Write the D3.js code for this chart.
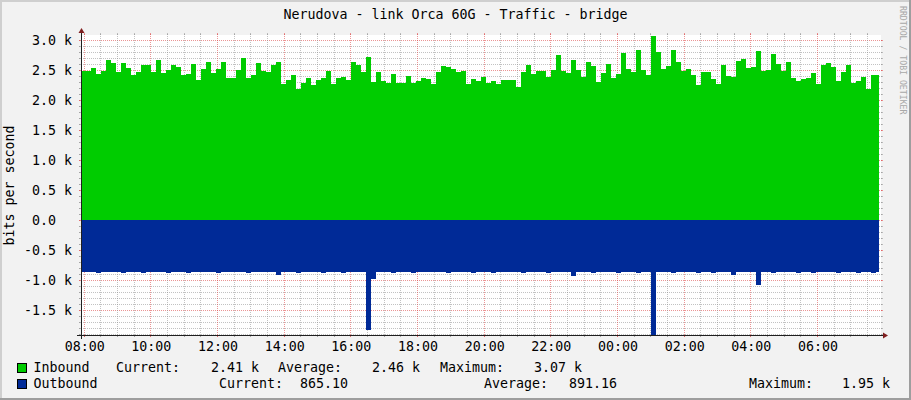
<!DOCTYPE html>
<html><head><meta charset="utf-8">
<script src="https://cdn.jsdelivr.net/npm/d3@7"></script>
<style>
html,body{margin:0;padding:0;background:#f2f2f2}
svg{display:block}
text{font-family:"DejaVu Sans Mono",monospace;fill:#000}
</style>
</head><body>
<svg id="chart" width="911" height="400"></svg>
<script>
// ---------- data ----------
const title = "Nerudova - link Orca 60G - Traffic - bridge";
const yAxisTitle = "bits per second";
const watermark = "RRDTOOL / TOBI OETIKER";
const graphStart = "2024-01-01T07:54:18";
const graphEnd   = "2024-01-02T07:54:18";
const dataStart  = "2024-01-01T07:54:00";
const dataEnd    = "2024-01-02T07:50:00";
const stepMinutes = 9;
const yMin = -1.9167, yMax = 3.0833;

// inbound traffic, k bits/s
const inbound = [
2.48,2.49,2.53,2.44,2.49,2.67,2.62,2.46,2.62,2.53,
2.41,2.47,2.58,2.59,2.46,2.67,2.45,2.50,2.59,2.55,
2.42,2.44,2.60,2.34,2.51,2.64,2.45,2.52,2.63,2.36,
2.37,2.50,2.70,2.36,2.42,2.61,2.49,2.46,2.58,2.63,
2.27,2.34,2.41,2.19,2.29,2.37,2.25,2.33,2.36,2.49,
2.27,2.37,2.39,2.33,2.64,2.58,2.46,2.72,2.30,2.46,
2.31,2.29,2.43,2.28,2.28,2.40,2.28,2.31,2.36,2.35,
2.26,2.46,2.57,2.55,2.52,2.47,2.49,2.26,2.35,2.32,
2.38,2.28,2.32,2.27,2.34,2.33,2.33,2.21,2.47,2.58,
2.44,2.48,2.48,2.39,2.50,2.75,2.49,2.45,2.67,2.50,
2.39,2.63,2.56,2.30,2.45,2.60,2.37,2.44,2.79,2.52,
2.47,2.83,2.50,2.42,3.07,2.80,2.52,2.56,2.83,2.63,
2.48,2.52,2.42,2.25,2.47,2.47,2.35,2.27,2.58,2.40,
2.38,2.65,2.68,2.53,2.55,2.82,2.48,2.50,2.77,2.60,
2.49,2.63,2.37,2.32,2.35,2.36,2.45,2.26,2.58,2.62,
2.55,2.32,2.47,2.58,2.29,2.31,2.38,2.18,2.42,2.41
];
// outbound traffic, k bits/s (drawn below zero)
const outbound = [
0.87,0.87,0.87,0.89,0.87,0.87,0.87,0.87,0.88,0.87,
0.87,0.87,0.89,0.87,0.87,0.87,0.87,0.88,0.87,0.87,
0.87,0.89,0.87,0.87,0.87,0.87,0.87,0.89,0.87,0.87,
0.87,0.87,0.87,0.88,0.87,0.87,0.87,0.87,0.87,0.91,
0.87,0.87,0.87,0.89,0.87,0.87,0.87,0.87,0.88,0.87,
0.87,0.87,0.89,0.87,0.87,0.87,0.87,1.83,0.98,0.87,
0.87,0.87,0.88,0.87,0.87,0.87,0.89,0.87,0.87,0.87,
0.87,0.87,0.87,0.89,0.87,0.87,0.87,0.87,0.88,0.87,
0.87,0.87,0.89,0.87,0.87,0.87,0.87,0.87,0.89,0.87,
0.87,0.87,0.87,0.88,0.87,0.87,0.87,0.87,0.93,0.87,
0.87,0.87,0.89,0.87,0.87,0.87,0.87,0.88,0.87,0.87,
0.87,0.89,0.87,0.87,1.95,0.87,0.87,0.87,0.89,0.87,
0.87,0.87,0.87,0.88,0.87,0.87,0.89,0.87,0.87,0.87,
0.92,0.87,0.87,0.87,0.87,1.08,0.87,0.87,0.89,0.87,
0.87,0.87,0.87,0.88,0.87,0.87,0.89,0.87,0.87,0.87,
0.87,0.89,0.87,0.87,0.87,0.88,0.87,0.87,0.89,0.865
];
const yTicks = [-1.5,-1.0,-0.5,0,0.5,1.0,1.5,2.0,2.5,3.0];
const yTickLabels = ["-1.5 k","-1.0 k","-0.5 k","0.0\u00a0\u00a0","0.5 k","1.0 k","1.5 k","2.0 k","2.5 k","3.0 k"];
const xTickLabels = ["08:00","10:00","12:00","14:00","16:00","18:00","20:00","22:00","00:00","02:00","04:00","06:00"];
const seriesNames = ["Inbound","Outbound"];
const seriesColors = ["#00CC00","#002A97"];
const legendInbound  = [["Current:","2.41 k"],["Average:","2.46 k"],["Maximum:","3.07 k"]];
const legendOutbound = [["Current:","865.10"],["Average:","891.16"],["Maximum:","1.95 k"]];

// ---------- layout ----------
const W = 911, H = 400;
const L = 81, R = 881, T = 35, B = 335;
const svg = d3.select("#chart");
const parse = d3.isoParse;
const x = d3.scaleTime().domain([parse(graphStart), parse(graphEnd)]).range([L, R]);
const y = d3.scaleLinear().domain([yMin, yMax]).range([B, T]);

// background + frame shading
svg.append("rect").attr("width", W).attr("height", H).attr("fill", "#f2f2f2");
svg.append("rect").attr("x", 0).attr("y", 0).attr("width", W).attr("height", 2).attr("fill", "#cfcfcf");
svg.append("rect").attr("x", 0).attr("y", 0).attr("width", 2).attr("height", H).attr("fill", "#cfcfcf");
svg.append("rect").attr("x", W - 2).attr("y", 0).attr("width", 2).attr("height", H).attr("fill", "#9e9e9e");
svg.append("rect").attr("x", 0).attr("y", H - 2).attr("width", W).attr("height", 2).attr("fill", "#9e9e9e");

// canvas
svg.append("rect").attr("x", L).attr("y", T).attr("width", R - L).attr("height", B - T).attr("fill", "#ffffff");

// ---------- grid ----------
const minorCol = "rgba(143,143,143,0.55)";
const majorCol = "rgba(222,79,79,0.6)";
const grid = svg.append("g").attr("shape-rendering", "crispEdges");
const yMajor = y.ticks(10);
const yMinor = y.ticks(50).filter(v => !yMajor.some(m => Math.abs(m - v) < 1e-6));
function hLine(v, col) {
  const yy = Math.round(y(v)) + 0.5;
  grid.append("line").attr("x1", L - 2).attr("x2", R + 2).attr("y1", yy).attr("y2", yy)
    .attr("stroke", col).attr("stroke-dasharray", "1,1");
  grid.append("line").attr("x1", L - 2).attr("x2", L).attr("y1", yy).attr("y2", yy).attr("stroke", col);
  grid.append("line").attr("x1", R).attr("x2", R + 2).attr("y1", yy).attr("y2", yy).attr("stroke", col);
}
yMinor.forEach(v => hLine(v, minorCol));
yMajor.forEach(v => hLine(v, majorCol));

const xMajor = d3.timeHour.every(2).range(parse(graphStart), parse(graphEnd));
const xMinor = d3.timeMinute.every(30).range(parse(graphStart), parse(graphEnd))
  .filter(t => !xMajor.some(m => +m === +t));
function vLine(t, col) {
  const xx = Math.floor(x(t)) + 0.5;
  grid.append("line").attr("y1", B + 2).attr("y2", T - 2).attr("x1", xx).attr("x2", xx)
    .attr("stroke", col).attr("stroke-dasharray", "1,1");
  grid.append("line").attr("y1", B).attr("y2", B + 2).attr("x1", xx).attr("x2", xx).attr("stroke", col);
  grid.append("line").attr("y1", T - 2).attr("y2", T).attr("x1", xx).attr("x2", xx).attr("stroke", col);
}
xMinor.forEach(t => vLine(t, minorCol));
xMajor.forEach(t => vLine(t, majorCol));

// ---------- data areas ----------
svg.append("clipPath").attr("id", "plotclip").append("rect")
  .attr("x", L).attr("y", T).attr("width", R - L).attr("height", B - T);
const t0 = parse(dataStart);
function toPoints(vals, sign) {
  const pts = vals.map((v, i) => ({ t: d3.timeMinute.offset(t0, i * stepMinutes), v: sign * v }));
  pts.push({ t: parse(dataEnd), v: sign * vals[vals.length - 1] });
  return pts;
}
const area = d3.area().curve(d3.curveStepAfter)
  .x(d => Math.round(x(d.t))).y0(y(0)).y1(d => Math.round(y(d.v)));
const gData = svg.append("g").attr("clip-path", "url(#plotclip)");
gData.append("path").datum(toPoints(inbound, 1)).attr("d", area)
  .attr("fill", seriesColors[0]);
gData.append("path").datum(toPoints(outbound, -1)).attr("d", area)
  .attr("fill", seriesColors[1]);

// ---------- axes ----------
const axisCol = "#1f1f1f", arrowCol = "#801f1f";
svg.append("line").attr("x1", L - 4).attr("x2", R + 4).attr("y1", B + 0.5).attr("y2", B + 0.5)
  .attr("stroke", axisCol).attr("stroke-width", 1);
svg.append("line").attr("x1", L + 0.5).attr("x2", L + 0.5).attr("y1", B + 4).attr("y2", T - 4)
  .attr("stroke", axisCol).attr("stroke-width", 1);
svg.append("path").attr("d", `M${R + 2},${B + 0.5 - 3}L${R + 2},${B + 0.5 + 3}L${R + 7},${B + 0.5}Z`).attr("fill", arrowCol);
svg.append("path").attr("d", `M${L + 0.5 - 3},${T - 2}L${L + 0.5 + 3},${T - 2}L${L + 0.5},${T - 7}Z`).attr("fill", arrowCol);

// x axis labels
const xAxis = d3.axisBottom(x).tickValues(xMajor).tickSize(0).tickPadding(0)
  .tickFormat((d, i) => xTickLabels[i]);
const gx = svg.append("g").attr("transform", `translate(0,${B})`).call(xAxis);
gx.select(".domain").remove();
gx.selectAll("text").attr("font-size", "13.3px").attr("font-family", "DejaVu Sans Mono")
  .attr("fill", "#000").attr("dy", null).attr("y", 16);

// y axis labels
const yAxis = d3.axisLeft(y).tickValues(yTicks).tickSize(0).tickPadding(0)
  .tickFormat((d, i) => yTickLabels[i]);
const gy = svg.append("g").attr("transform", `translate(72,0)`).call(yAxis);
gy.select(".domain").remove();
gy.selectAll("text").attr("font-size", "13.3px").attr("font-family", "DejaVu Sans Mono")
  .attr("fill", "#000").attr("x", 0).attr("dy", null).attr("y", 5).style("white-space", "pre");

// titles
svg.append("text").attr("x", 455.5).attr("y", 19).attr("text-anchor", "middle")
  .attr("font-size", "13.3px").text(title);
svg.append("text").attr("transform", "translate(13.5,185.5) rotate(-90)").attr("text-anchor", "middle")
  .attr("font-size", "13.3px").text(yAxisTitle);
svg.append("text").attr("transform", "translate(899.5,6) rotate(90)")
  .attr("font-size", "8.2px").style("fill", "#a8a8a8").text(watermark);

// ---------- legend ----------
const rows = [
  { y: 372, name: seriesNames[0], color: seriesColors[0], items: legendInbound,
    xs: [[116, 211], [278, 372], [440, 534]] },
  { y: 388, name: seriesNames[1], color: seriesColors[1], items: legendOutbound,
    xs: [[219, 300], [484, 569], [749, 842]] }
];
rows.forEach(r => {
  svg.append("rect").attr("x", 17.5).attr("y", r.y - 8.5).attr("width", 9).attr("height", 9)
    .attr("fill", r.color).attr("stroke", "#000").attr("stroke-width", 1);
  svg.append("text").attr("x", 33.5).attr("y", r.y).attr("font-size", "13.3px").text(r.name);
  r.items.forEach((it, i) => {
    svg.append("text").attr("x", r.xs[i][0]).attr("y", r.y).attr("font-size", "13.3px").text(it[0]);
    svg.append("text").attr("x", r.xs[i][1]).attr("y", r.y).attr("font-size", "13.3px").text(it[1]);
  });
});
</script>
</body></html>
